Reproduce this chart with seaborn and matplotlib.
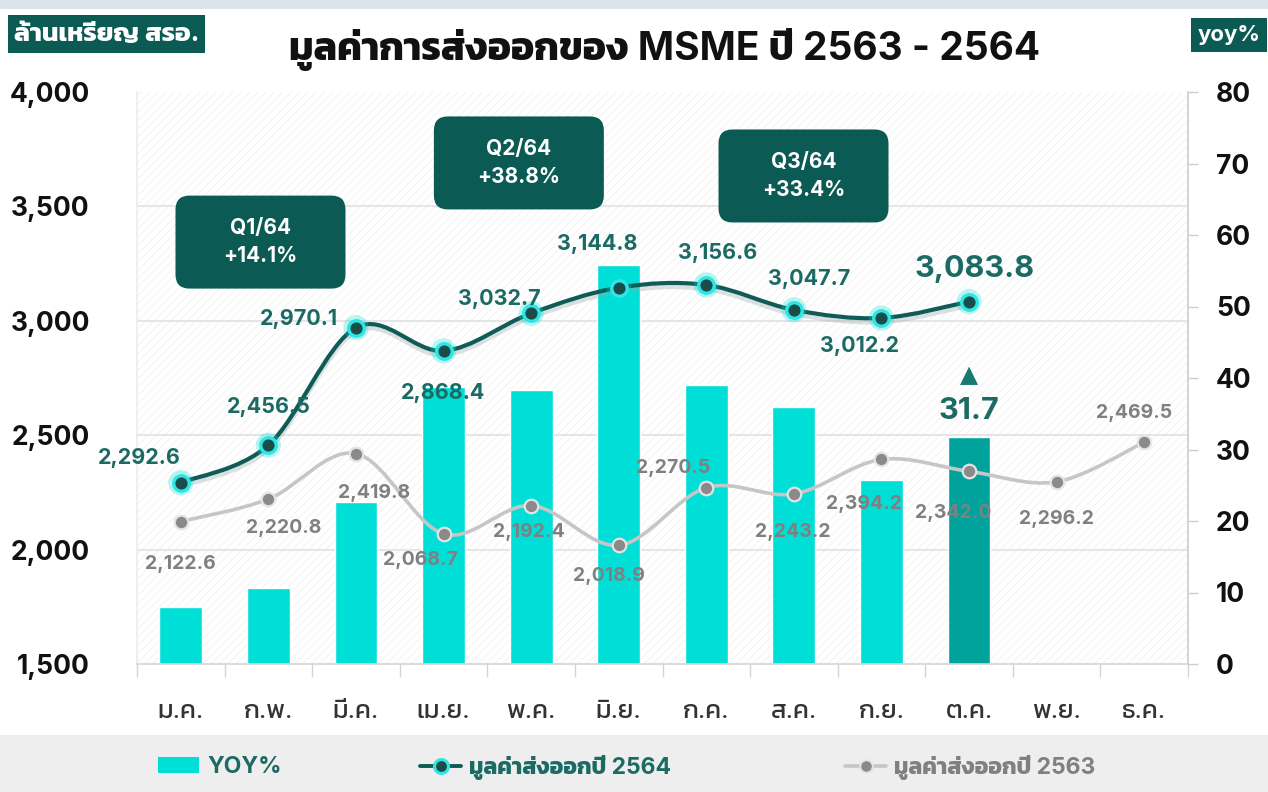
import numpy as np
import pandas as pd
import matplotlib
matplotlib.use('Agg')
import matplotlib.pyplot as plt
import seaborn as sns
from matplotlib import font_manager
from matplotlib.ft2font import FT2Font
from matplotlib.path import Path
from matplotlib.patches import PathPatch, FancyBboxPatch, Rectangle, Patch
from matplotlib.lines import Line2D
from matplotlib.ticker import MultipleLocator, FixedLocator, FuncFormatter
import matplotlib.patheffects as pe

# data
months = ['ม.ค.', 'ก.พ.', 'มี.ค.', 'เม.ย.', 'พ.ค.', 'มิ.ย.', 'ก.ค.', 'ส.ค.', 'ก.ย.', 'ต.ค.', 'พ.ย.', 'ธ.ค.']
export_2564 = [2292.6, 2456.5, 2970.1, 2868.4, 3032.7, 3144.8, 3156.6, 3047.7, 3012.2, 3083.8]
export_2563 = [2122.6, 2220.8, 2419.8, 2068.7, 2192.4, 2018.9, 2270.5, 2243.2, 2394.2, 2342.0, 2296.2, 2469.5]
yoy = [8.0, 10.6, 22.7, 38.7, 38.3, 55.8, 39.0, 35.9, 25.8, 31.7]
quarter_text = ['Q1/64\n+14.1%', 'Q2/64\n+38.8%', 'Q3/64\n+33.4%']
legend_labels = ['YOY%', 'มูลค่าส่งออกปี 2564', 'มูลค่าส่งออกปี 2563']

# label placement (pixels, relative to the point)
off_2564 = [(-41, 25), (0, 38), (-57, 9), (0, -42), (-32, 14), (-21, 44), (11, 32), (15, 31), (-22, -28), (6, 33)]
off_2563 = [(0, -42), (15, -29), (18, -39), (-23, -26), (-2, -26), (-10, -31), (-33, 20), (-1, -38),
            (-17, -45), (-16, -42), (0, -37), (-10, 29)]
quarter_pos = [(0.91, 3344), (3.86, 3690), (7.11, 3633)]
legend_x = [158, 420, 845]

DARK = '#0b5a53'
TEAL_TXT = '#1b6a64'
CYAN = '#00dfd7'
CYAN_DARK = '#00a39c'
GREY_TXT = '#808080'


def weight_num(w):
    if isinstance(w, (int, float)):
        return w
    return {'bold': 700, 'heavy': 800, 'black': 900, 'semibold': 600, 'demibold': 600,
            'medium': 500, 'extra bold': 800}.get(str(w).lower(), 400)


def find_thai_font():
    preferred = ['Noto Sans Thai', 'Noto Sans Thai UI', 'Kanit', 'Prompt', 'Sarabun', 'Noto Looped Thai',
                 'Loma', 'Garuda', 'Waree', 'Umpush', 'Tlwg Typo', 'Norasi', 'Kinnari', 'Sawasdee', 'Laksaman']
    found = {}
    for f in font_manager.fontManager.ttflist:
        try:
            cmap = FT2Font(f.fname).get_charmap()
        except Exception:
            continue
        if 0x0E21 in cmap and 0x0E48 in cmap:
            found.setdefault(f.name, set()).add(weight_num(f.weight))
    if not found:
        return None, False
    ranked = sorted(found, key=lambda n: (max(found[n]) < 600,
                                          preferred.index(n) if n in preferred else 99))
    name = ranked[0]
    return name, max(found[name]) >= 600


thai, thai_bold = find_thai_font()

sns.set_theme(style='white')
plt.rcParams['font.family'] = ['Inter'] + ([thai] if thai else []) + ['DejaVu Sans']
plt.rcParams['hatch.linewidth'] = 0.6
plt.rcParams['hatch.color'] = '#f1f1f1'


def fake_bold(color, w=1.1):
    # thicken Thai glyphs when the Thai family has no bold face
    if thai_bold:
        return []
    return [pe.withStroke(linewidth=w, foreground=color)]


fig = plt.figure(figsize=(12.68, 7.92), dpi=100)
fig.patch.set_facecolor('white')
fig.patches.append(Rectangle((0, 1 - 9 / 792), 1, 9 / 792, transform=fig.transFigure,
                             facecolor='#dde4e9', edgecolor='none', zorder=0))
fig.patches.append(Rectangle((0, 0), 1, 57 / 792, transform=fig.transFigure,
                             facecolor='#eeeeee', edgecolor='none', zorder=0))

ax2 = fig.add_axes([137 / 1268, 1 - 664 / 792, (1188 - 137) / 1268, (664 - 92) / 792])
ax = ax2.twinx()
# lines/labels above the bars
ax.set_zorder(ax2.get_zorder() + 1)
ax.patch.set_visible(False)
ax2.patch.set_visible(True)
ax2.patch.set_facecolor('white')
ax2.patch.set_hatch('////')
ax2.patch.set_edgecolor('#f1f1f1')

# yoy bars
bars = pd.DataFrame({'month': months[:len(yoy)], 'yoy': yoy})
bar_colors = {m: CYAN for m in months}
bar_colors['ต.ค.'] = CYAN_DARK
sns.barplot(data=bars, x='month', y='yoy', hue='month', order=months, palette=bar_colors,
            width=0.49, saturation=1, legend=False, ax=ax2, zorder=2)

ax2.set_ylim(0, 80)
ax2.yaxis.set_major_locator(MultipleLocator(10))
ax2.yaxis.set_minor_locator(MultipleLocator(16))
ax2.grid(which='minor', axis='y', color='#e2e2e2', linewidth=1.2, zorder=0)
ax2.grid(which='major', axis='y', visible=False)
ax2.set_axisbelow(True)
ax2.set_xlabel('')
ax2.set_ylabel('')

ax.set_ylim(1500, 4000)
ax.set_xlim(-0.5, 11.5)
ax2.set_xlim(-0.5, 11.5)

ax.yaxis.tick_left()
ax.yaxis.set_label_position('left')
ax2.yaxis.tick_right()
ax2.yaxis.set_label_position('right')

fig.canvas.draw()


def smooth_path(xs, ys):
    pts = np.column_stack([xs, ys]).astype(float)
    verts = [pts[0]]
    codes = [Path.MOVETO]
    n = len(pts)
    for i in range(n - 1):
        p0 = pts[max(i - 1, 0)]
        p1 = pts[i]
        p2 = pts[i + 1]
        p3 = pts[min(i + 2, n - 1)]
        verts += [p1 + (p2 - p0) / 6, p2 - (p3 - p1) / 6, p2]
        codes += [Path.CURVE4] * 3
    return Path(verts, codes)


x63 = np.arange(len(export_2563))
x64 = np.arange(len(export_2564))

ax.add_patch(PathPatch(smooth_path(x63, export_2563), facecolor='none', edgecolor='#c6c6c6',
                       linewidth=2.6, zorder=3, capstyle='round'))
ax.add_patch(PathPatch(smooth_path(x64, export_2564), facecolor='none', edgecolor='#0f5c57',
                       linewidth=3.0, zorder=4, capstyle='round',
                       path_effects=[pe.SimpleLineShadow(offset=(0, -3), shadow_color='#9aa9a8', alpha=0.35),
                                     pe.Normal()]))

sns.scatterplot(x=x63, y=export_2563, s=95, color='#8a8a8a', edgecolor='#e4e4e4', linewidth=1.6,
                zorder=5, ax=ax, legend=False)
sns.scatterplot(x=x64, y=export_2564, s=330, color=CYAN, alpha=0.28, edgecolor='none',
                zorder=5, ax=ax, legend=False)
sns.scatterplot(x=x64, y=export_2564, s=125, color='#1a4d4a', edgecolor='#2ee6e3', linewidth=2.4,
                zorder=6, ax=ax, legend=False)

for i, (v, off) in enumerate(zip(export_2563, off_2563)):
    ax.annotate(f'{v:,.1f}', (i, v), xytext=off, textcoords='offset pixels', ha='center', va='center',
                fontsize=14, fontweight='bold', color=GREY_TXT, zorder=7)

for i, (v, off) in enumerate(zip(export_2564, off_2564)):
    big = i == len(export_2564) - 1
    ax.annotate(f'{v:,.1f}', (i, v), xytext=off, textcoords='offset pixels', ha='center', va='center',
                fontsize=22 if big else 15.5, fontweight='bold', color=TEAL_TXT, zorder=7)

# latest month yoy label
last = len(yoy) - 1
ax2.annotate(f'{yoy[last]:.1f}', (last, yoy[last]), xytext=(0, 26), textcoords='offset pixels',
             ha='center', va='center', fontsize=22, fontweight='bold', color=TEAL_TXT)
ax2.annotate('▲', (last, yoy[last]), xytext=(0, 62), textcoords='offset pixels',
             ha='center', va='center', fontsize=17, color='#177a72', family='DejaVu Sans')

# quarter boxes
p0 = ax.transData.transform((0, 1500))
p1 = ax.transData.transform((1, 2000))
pxx = p1[0] - p0[0]
pxy = (p1[1] - p0[1]) / 500
bw, bh, rad = 170 / pxx, 93 / pxy, 14 / pxx
for (cx, cy), txt in zip(quarter_pos, quarter_text):
    ax.add_patch(FancyBboxPatch((cx - bw / 2, cy - bh / 2), bw, bh,
                                boxstyle=f'round,pad=0,rounding_size={rad}', mutation_aspect=pxx / pxy,
                                facecolor=DARK, edgecolor='none', zorder=8))
    ax.text(cx, cy, txt, ha='center', va='center', color='white', fontsize=15, fontweight='bold',
            linespacing=1.55, zorder=9)

# left axis
ax.set_yticks(np.arange(1500, 4001, 500))
ax.yaxis.set_major_formatter(FuncFormatter(lambda v, p: f'{v:,.0f}'))
ax.tick_params(axis='y', which='both', length=0, pad=34, labelsize=19)
for lab in ax.get_yticklabels():
    lab.set_fontweight('bold')
    lab.set_color('#111111')

# right axis
ax2.tick_params(axis='y', which='major', length=7, width=1, color='#cccccc', pad=13, labelsize=19,
                right=True, left=False)
ax2.tick_params(axis='y', which='minor', length=0)
for lab in ax2.get_yticklabels():
    lab.set_fontweight('bold')
    lab.set_color('#111111')

# month axis on the bar axes (the twin hides its x axis)
ax2.set_xticks(range(len(months)))
ax2.set_xticklabels(months)
ax2.xaxis.set_minor_locator(FixedLocator(np.arange(-0.5, len(months), 1)))
ax2.tick_params(axis='x', which='major', length=0, pad=26, labelsize=18.5, labelcolor='#333333',
                labelbottom=True)
ax2.tick_params(axis='x', which='minor', length=9, width=1, color='#d4d4d4', bottom=True)

for a in (ax, ax2):
    for s in a.spines.values():
        s.set_visible(False)
ax.spines['bottom'].set_visible(True)
ax.spines['bottom'].set_color('#d4d4d4')
ax.spines['bottom'].set_linewidth(1.2)
ax.spines['right'].set_visible(True)
ax.spines['right'].set_color('#cccccc')
ax.spines['right'].set_linewidth(1.2)
ax.spines['left'].set_visible(True)
ax.spines['left'].set_color('#ececec')
ax.set_ylabel('')

# title and axis unit boxes
fig.text(0.524, 0.937, 'มูลค่าการส่งออกของ MSME ปี 2563 - 2564', ha='center', va='center',
         fontsize=28, fontweight='bold', color='#111111', path_effects=fake_bold('#111111', 1.3))
fig.text(14 / 1268, 1 - 34 / 792, 'ล้านเหรียญ สรอ.', ha='left', va='center', fontsize=19,
         color='white', fontweight='bold', path_effects=fake_bold('white', 1.0),
         bbox=dict(boxstyle='square,pad=0.22', facecolor=DARK, edgecolor='none'))
fig.text(1229 / 1268, 1 - 35 / 792, 'yoy%', ha='center', va='center', fontsize=16,
         color='white', fontweight='bold',
         bbox=dict(boxstyle='square,pad=0.3', facecolor=DARK, edgecolor='none'))

# legend, one entry per slot
handles = [
    Patch(facecolor=CYAN, edgecolor='none'),
    Line2D([0], [0], color='#0f5c57', linewidth=2.8, marker='o', markersize=10,
           markerfacecolor='#1a4d4a', markeredgecolor='#2ee6e3', markeredgewidth=2.2),
    Line2D([0], [0], color='#c6c6c6', linewidth=2.6, marker='o', markersize=9,
           markerfacecolor='#8a8a8a', markeredgecolor='#e4e4e4', markeredgewidth=1.4),
]
for h, lab, xpx, col in zip(handles, legend_labels, legend_x, [TEAL_TXT, TEAL_TXT, GREY_TXT]):
    leg = fig.legend([h], [lab], loc='center left', bbox_to_anchor=(xpx / 1268, 0.031), frameon=False,
                     handlelength=1.8, handletextpad=0.35, borderpad=0, borderaxespad=0,
                     prop={'size': 16.5, 'weight': 'bold'})
    for t in leg.get_texts():
        t.set_color(col)
        t.set_path_effects(fake_bold(col, 0.8))

fig.savefig('out.png', dpi=100)
